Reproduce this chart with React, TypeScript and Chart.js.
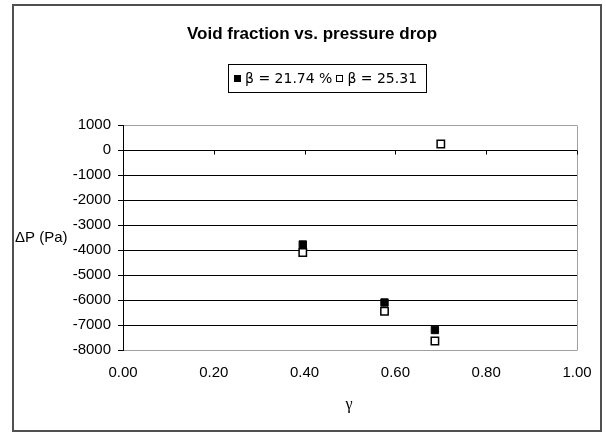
import React, { useEffect, useRef } from "react";
import { Chart, registerables } from "chart.js";

Chart.register(...registerables);

const TITLE = "Void fraction vs. pressure drop";
const Y_TITLE = "ΔP (Pa)";
const X_TITLE = "γ";
const seriesLabels = ["β = 21.74 %", "β = 25.31"];

const gammaA = [0.396, 0.576, 0.687];
const dpA = [-3780, -6100, -7200];
const gammaB = [0.396, 0.576, 0.687, 0.7];
const dpB = [-4100, -6450, -7640, 240];

const xTicks = [0, 0.2, 0.4, 0.6, 0.8, 1.0];
const yMin = -8000;
const yMax = 1000;
const yStep = 1000;

const decorPlugin = {
  id: "decor",
  afterDraw(chart: any) {
    const ctx = chart.ctx as CanvasRenderingContext2D;
    const area = chart.chartArea;
    const xs = chart.scales.x;
    const ys = chart.scales.y;
    ctx.save();

    // plot area gray border (right side)
    ctx.strokeStyle = "#a0a0a0";
    ctx.lineWidth = 1;
    ctx.beginPath();
    ctx.moveTo(Math.round(area.right) + 0.5, Math.round(area.top) + 0.5);
    ctx.lineTo(Math.round(area.right) + 0.5, Math.round(area.bottom) + 0.5);
    ctx.stroke();

    // x tick marks on the zero line
    const y0 = Math.round(ys.getPixelForValue(0)) + 0.5;
    ctx.strokeStyle = "#000";
    ctx.beginPath();
    xTicks.forEach((v) => {
      if (v === 0) return;
      const px = Math.round(xs.getPixelForValue(v)) + 0.5;
      ctx.moveTo(px, y0);
      ctx.lineTo(px, y0 + 4);
    });
    ctx.stroke();

    // outer border
    ctx.strokeStyle = "#505050";
    ctx.lineWidth = 2;
    ctx.strokeRect(13, 5, 588, 426);

    // title
    ctx.fillStyle = "#000";
    ctx.font = "bold 17px 'Liberation Sans', Arial, sans-serif";
    ctx.textAlign = "center";
    ctx.textBaseline = "alphabetic";
    ctx.fillText(TITLE, 312, 39);

    // legend
    ctx.font = "14px 'DejaVu Sans', sans-serif";
    const w1 = ctx.measureText(seriesLabels[0]).width;
    const w2 = ctx.measureText(seriesLabels[1]).width;
    const mk = 7;
    const gap = 4;
    const padL = 6;
    const padR = 9;
    const boxW = padL + mk + gap + w1 + gap + mk + gap + w2 + padR;
    const boxX = Math.round(327 - boxW / 2);
    const boxY = 64;
    const boxH = 28;
    ctx.lineWidth = 1;
    ctx.strokeStyle = "#000";
    ctx.strokeRect(boxX + 0.5, boxY + 0.5, Math.round(boxW), boxH);
    let cx = boxX + padL;
    const my = 75;
    const ty = 79;
    ctx.textBaseline = "middle";
    ctx.fillStyle = "#000";
    ctx.fillRect(cx, my, mk, mk);
    cx += mk + gap;
    ctx.textAlign = "left";
    ctx.fillText(seriesLabels[0], cx, ty);
    cx += w1 + gap;
    ctx.fillStyle = "#fff";
    ctx.fillRect(Math.round(cx), my, mk, mk);
    ctx.strokeStyle = "#000";
    ctx.strokeRect(Math.round(cx) + 0.5, my + 0.5, mk - 1, mk - 1);
    cx += mk + gap;
    ctx.fillStyle = "#000";
    ctx.fillText(seriesLabels[1], cx, ty);

    // y-axis title (horizontal)
    ctx.font = "15px 'Liberation Sans', Arial, sans-serif";
    ctx.textAlign = "left";
    ctx.textBaseline = "middle";
    ctx.fillText(Y_TITLE, 15, 238);

    // x-axis title
    ctx.font = "16px 'Liberation Serif', serif";
    ctx.textAlign = "center";
    ctx.fillText(X_TITLE, 349, 405);

    ctx.restore();
  },
};

export default function App() {
  const ref = useRef<HTMLCanvasElement | null>(null);

  useEffect(() => {
    if (!ref.current) return;
    const tickFont = { family: "'Liberation Sans', Arial, sans-serif", size: 15 };
    const chart = new Chart(ref.current, {
      type: "scatter",
      data: {
        datasets: [
          {
            label: seriesLabels[0],
            data: gammaA.map((g, i) => ({ x: g, y: dpA[i] })),
            pointStyle: "rect",
            pointRadius: 5.2,
            pointHoverRadius: 5.2,
            backgroundColor: "#000",
            borderColor: "#000",
            borderWidth: 1,
            order: 1,
          },
          {
            label: seriesLabels[1],
            data: gammaB.map((g, i) => ({ x: g, y: dpB[i] })),
            pointStyle: "rect",
            pointRadius: 5.2,
            pointHoverRadius: 5.2,
            backgroundColor: "#fff",
            borderColor: "#000",
            borderWidth: 1.5,
            order: 0,
          },
        ],
      },
      options: {
        responsive: false,
        animation: false,
        devicePixelRatio: 1,
        layout: { padding: { top: 125, right: 29, bottom: 0, left: 0 } },
        plugins: {
          legend: { display: false },
          title: { display: false },
          tooltip: { enabled: false },
        },
        scales: {
          x: {
            type: "linear",
            min: 0,
            max: 1,
            afterBuildTicks: (scale: any) => {
              scale.ticks = xTicks.map((v) => ({ value: v }));
            },
            afterFit: (scale: any) => {
              scale.height = 83;
            },
            grid: { display: false, drawTicks: false },
            border: { display: false },
            ticks: {
              font: tickFont,
              color: "#000",
              padding: 14,
              maxRotation: 0,
              autoSkip: false,
              callback: (v: any) => Number(v).toFixed(2),
            },
          },
          y: {
            type: "linear",
            min: yMin,
            max: yMax,
            afterFit: (scale: any) => {
              scale.width = 123;
            },
            grid: {
              color: (c: any) =>
                c.tick && (c.tick.value === yMin || c.tick.value === yMax) ? "#a0a0a0" : "#000",
              tickColor: "#000",
              tickLength: 5,
              lineWidth: 1,
            },
            border: { display: true, color: "#000", width: 1 },
            ticks: {
              stepSize: yStep,
              font: tickFont,
              color: "#000",
              padding: 7,
              callback: (v: any) => String(Math.round(Number(v))),
            },
          },
        },
      },
      plugins: [decorPlugin],
    });
    return () => chart.destroy();
  }, []);

  return (
    <div style={{ position: "absolute", left: 0, top: 0, width: 606, height: 433, background: "#fff" }}>
      <canvas ref={ref} width={606} height={433} style={{ width: 606, height: 433, display: "block" }} />
    </div>
  );
}
